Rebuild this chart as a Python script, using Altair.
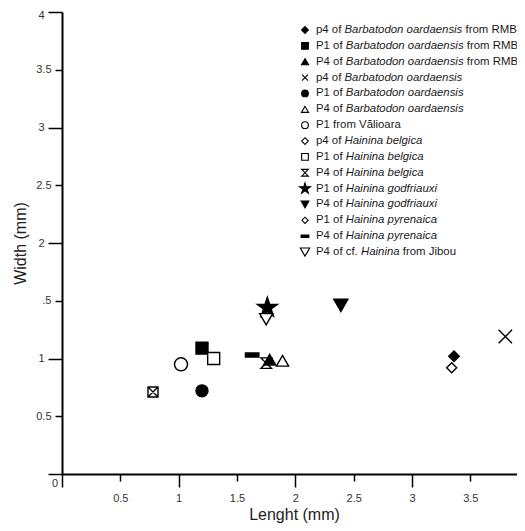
import altair as alt
import pandas as pd

# ---------------- data ----------------
pre_text = ["p4 of", "P1 of", "P4 of", "p4 of", "P1 of", "P4 of", "P1 from Vălioara",
            "p4 of", "P1 of", "P4 of", "P1 of", "P4 of", "P1 of", "P4 of", "P4 of cf."]
ital_text = ["Barbatodon oardaensis", "Barbatodon oardaensis", "Barbatodon oardaensis",
             "Barbatodon oardaensis", "Barbatodon oardaensis", "Barbatodon oardaensis", "",
             "Hainina belgica", "Hainina belgica", "Hainina belgica", "Hainina godfriauxi",
             "Hainina godfriauxi", "Hainina pyrenaica", "Hainina pyrenaica", "Hainina"]
post_text = ["from RMB", "from RMB", "from RMB", "", "", "", "", "", "", "", "", "", "", "", "from Jibou"]

length = [3.36, 1.20, 1.78, 3.80, 1.20, 1.89, 1.02, 3.34, 1.30, 1.75, 1.76, 2.39, 0.78, 1.63, 1.75]
width = [1.02, 1.09, 0.99, 1.19, 0.72, 0.98, 0.95, 0.92, 1.00, 0.96, 1.44, 1.46, 0.71, 1.03, 1.34]

x_ticks = [0, 0.5, 1, 1.5, 2, 2.5, 3, 3.5]
y_ticks = [0, 0.5, 1, 1.5, 2, 2.5, 3, 3.5, 4]

# ---------------- styles ----------------
CROSS = "M-1,-1L1,1M-1,1L1,-1"
HOURGLASS = "M-1,-1H1L-1,1H1Z"
BOXX = "M-1,-1H1V1H-1ZM-1,-1L1,1M-1,1L1,-1"
DASH = "M-1,-0.3H1V0.3H-1Z"
STAR = ("M0,-1L0.225,-0.309L0.951,-0.309L0.363,0.118L0.588,0.809L0,0.382"
        "L-0.588,0.809L-0.363,0.118L-0.951,-0.309L-0.225,-0.309Z")
shapes = ["diamond", "square", "triangle-up", CROSS, "circle", "triangle-up", "circle",
          "diamond", "square", HOURGLASS, STAR, "triangle-down", BOXX, DASH, "triangle-down"]
fills = ["black", "black", "black", "transparent", "black", "white", "white",
         "white", "white", "transparent", "black", "black", "transparent", "black", "white"]
legend_shapes = ["diamond", "square", "triangle-up", CROSS, "circle", "triangle-up", "circle",
                 "diamond", "square", HOURGLASS, STAR, "triangle-down", "diamond", DASH, "triangle-down"]
legend_fills = ["black", "black", "black", "transparent", "black", "white", "white",
                "white", "white", "transparent", "black", "black", "white", "black", "white"]
plot_sizes = [110, 144, 150, 180, 144, 150, 170, 100, 144, 110, 440, 200, 100, 180, 170]
legend_sizes = [45, 45, 50, 36, 45, 50, 45, 45, 45, 45, 130, 60, 40, 60, 90]
draw_rank = [1, 2, 20, 4, 5, 6, 7, 8, 9, 3, 11, 12, 13, 14, 15]

FONT = "Liberation Sans"
W, H = 455, 462
PAD_L, PAD_T, PAD_B = 54, 4, 49
FS = 11.4

ARIAL = {' ': 278, '.': 278, 'P': 667, 'B': 667, 'H': 722, 'R': 722, 'M': 833, 'J': 500, 'V': 667,
         'a': 556, 'b': 556, 'c': 500, 'd': 556, 'e': 556, 'f': 278, 'g': 556, 'h': 556, 'i': 222,
         'j': 222, 'k': 500, 'l': 222, 'm': 833, 'n': 556, 'o': 556, 'p': 556, 'q': 556, 'r': 333,
         's': 500, 't': 278, 'u': 556, 'v': 500, 'w': 722, 'x': 500, 'y': 500, 'z': 500, 'ă': 556}


def text_w(s):
    return sum(ARIAL.get(c, 556) for c in s) * FS / 1000.0


SPACE = text_w(" ")

df = pd.DataFrame({"length": length, "width": width, "shape": shapes, "fill": fills,
                   "size": plot_sizes, "rank": draw_rank}).sort_values("rank")

# legend layout (pixels relative to plot area, top-left origin)
LX_MARK, LX_TEXT, LY0, LDY = 243, 254, 18, 15.86
leg_rows, reg_rows, ita_rows = [], [], []
for i in range(len(pre_text)):
    yy = LY0 + i * LDY
    leg_rows.append({"mx": LX_MARK, "my": yy, "shape": legend_shapes[i], "fill": legend_fills[i],
                     "size": legend_sizes[i]})
    x0 = LX_TEXT
    reg_rows.append({"tx": x0, "ty": yy, "t": pre_text[i]})
    if ital_text[i]:
        x1 = x0 + text_w(pre_text[i]) + SPACE
        ita_rows.append({"tx": x1, "ty": yy, "t": ital_text[i]})
        if post_text[i]:
            x2 = x1 + text_w(ital_text[i]) + SPACE
            reg_rows.append({"tx": x2, "ty": yy, "t": post_text[i]})
leg_df = pd.DataFrame(leg_rows)
reg_df = pd.DataFrame(reg_rows)
ita_df = pd.DataFrame(ita_rows)

x_axis = alt.Axis(
    orient="bottom",
    values=x_ticks, format="~g", labelExpr="datum.value == 0 ? '' : datum.label",
    tickSize={"condition": {"test": "datum.value % 1 == 0", "value": 13}, "value": 7},
    labelPadding={"condition": {"test": "datum.value % 1 == 0", "value": 5}, "value": 11},
    tickColor="black", tickWidth=1.5, domainColor="black", domainWidth=2,
    labelFont=FONT, labelFontSize=11, labelColor="#333",
    titleFont=FONT, titleFontSize=16, titleFontWeight="normal", titleColor="#222",
    titleX=232, titleY=40, titleBaseline="middle", titleAlign="center",
    grid=False,
)
y_axis = alt.Axis(
    orient="left",
    values=y_ticks, format="~g",
    labelExpr="datum.value == 0 ? '' : (datum.value == 1.5 ? '.5' : datum.label)",
    tickSize={"condition": {"test": "datum.value % 1 == 0", "value": 14}, "value": 7},
    labelOffset={"condition": {"test": "datum.value == 4", "value": 3}, "value": 0},
    labelPadding=4,
    tickColor="black", tickWidth=1.5, domainColor="black", domainWidth=2,
    labelFont=FONT, labelFontSize=11, labelColor="#333",
    titleFont=FONT, titleFontSize=16, titleFontWeight="normal", titleColor="#222",
    titleX=-42, titleY=H / 2, titleBaseline="middle", titleAlign="center", titleAngle=270,
    grid=False,
)

xs = alt.Scale(domain=[0, 3.9], nice=False, zero=False)
ys = alt.Scale(domain=[0, 4], nice=False, zero=False)

points = alt.Chart(df).mark_point(filled=True, strokeWidth=1.4, opacity=1).encode(
    x=alt.X("length:Q", scale=xs, axis=x_axis, title="Lenght (mm)"),
    y=alt.Y("width:Q", scale=ys, axis=y_axis, title="Width (mm)"),
    shape=alt.Shape("shape:N", scale=None),
    fill=alt.Fill("fill:N", scale=None),
    stroke=alt.value("black"),
    size=alt.Size("size:Q", scale=None),
)

zero_lbl = alt.Chart(pd.DataFrame({"a": [0]})).mark_text(
    font=FONT, fontSize=11, color="#333", dx=-7, dy=10).encode(
    x=alt.datum(0, scale=xs), y=alt.datum(0, scale=ys), text=alt.value("0"))

plot_layer = alt.layer(points, zero_lbl)

lxs = alt.Scale(domain=[0, W], nice=False, zero=False)
lys = alt.Scale(domain=[0, H], nice=False, zero=False, reverse=True)

leg_marks = alt.Chart(leg_df).mark_point(filled=True, strokeWidth=1.1, opacity=1).encode(
    x=alt.X("mx:Q", scale=lxs, axis=None),
    y=alt.Y("my:Q", scale=lys, axis=None),
    shape=alt.Shape("shape:N", scale=None),
    fill=alt.Fill("fill:N", scale=None),
    stroke=alt.value("black"),
    size=alt.Size("size:Q", scale=None),
)
leg_reg = alt.Chart(reg_df).mark_text(align="left", baseline="middle", font=FONT, fontSize=FS,
                                       color="#1a1a1a").encode(
    x=alt.X("tx:Q", scale=lxs, axis=None), y=alt.Y("ty:Q", scale=lys, axis=None), text="t:N")
leg_ita = alt.Chart(ita_df).mark_text(align="left", baseline="middle", font=FONT, fontSize=FS,
                                       fontStyle="italic", color="#1a1a1a").encode(
    x=alt.X("tx:Q", scale=lxs, axis=None), y=alt.Y("ty:Q", scale=lys, axis=None), text="t:N")

legend_layer = alt.layer(leg_marks, leg_reg, leg_ita)

chart = alt.layer(plot_layer, legend_layer).resolve_scale(
    x="independent", y="independent"
).properties(
    width=W, height=H,
    autosize=alt.AutoSizeParams(type="none"),
    padding={"left": PAD_L, "top": PAD_T, "right": 0, "bottom": PAD_B},
).configure_view(stroke=None)

chart.save("out.html", embed_options={"renderer": "svg", "actions": False})
